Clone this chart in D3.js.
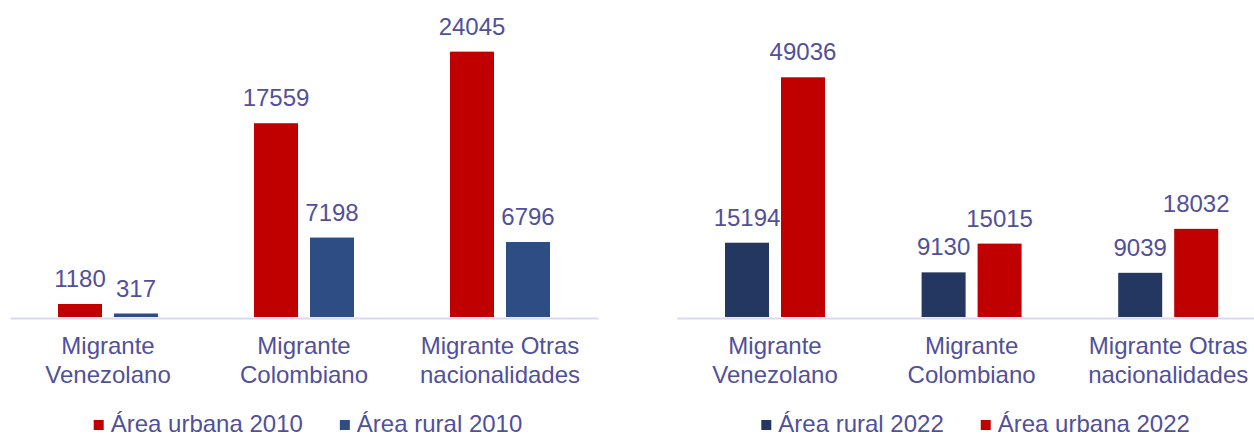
<!DOCTYPE html>
<html>
<head>
<meta charset="utf-8">
<script src="https://cdn.jsdelivr.net/npm/d3@7"></script>
<style>
  body { margin: 0; background: #fff; }
  svg { display: block; font-family: "Liberation Sans", Arial, sans-serif; }
</style>
</head>
<body>
<svg width="1254" height="437"></svg>
<script>
// Data
const categories = ["Migrante Venezolano", "Migrante Colombiano", "Migrante Otras nacionalidades"];
const tickLines = [["Migrante", "Venezolano"], ["Migrante", "Colombiano"], ["Migrante Otras", "nacionalidades"]];

const series2010 = ["Área urbana 2010", "Área rural 2010"];
const urbana2010 = [1180, 17559, 24045];
const rural2010 = [317, 7198, 6796];

const series2022 = ["Área rural 2022", "Área urbana 2022"];
const rural2022 = [15194, 9130, 9039];
const urbana2022 = [49036, 15015, 18032];

const textColor = "#51509a";
const axisColor = "#d9d9f0";

const svg = d3.select("svg");

function panel(opts) {
    const g = svg.append("g");
    const baseY = 317;

    const x0 = d3.scaleBand()
        .domain(categories)
        .range(opts.xRange)
        .padding(0);

    // two bars per group, 44px wide with a 12px gap
    const x1 = d3.scaleBand()
        .domain(opts.series)
        .range([(x0.bandwidth() - 100) / 2, (x0.bandwidth() + 100) / 2])
        .paddingInner(0.214)
        .paddingOuter(0);

    const y = d3.scaleLinear()
        .domain([0, opts.yMax])
        .range([baseY, opts.yTop]);

    const color = d3.scaleOrdinal().domain(opts.series).range(opts.colors);

    const rows = [];
    categories.forEach((c, i) => {
        opts.series.forEach((s, j) => rows.push({ cat: c, series: s, value: opts.values[j][i] }));
    });

    // category axis
    const axis = g.append("g")
        .attr("transform", `translate(0, ${baseY + 1})`)
        .call(d3.axisBottom(x0).tickSize(0).tickSizeOuter(0));
    axis.select(".domain")
        .attr("stroke", axisColor)
        .attr("stroke-width", 2);
    axis.selectAll(".tick text").remove();
    axis.selectAll(".tick").each(function (d) {
        const lines = tickLines[categories.indexOf(d)];
        const t = d3.select(this).append("text")
            .attr("fill", textColor)
            .attr("font-size", 24)
            .attr("text-anchor", "middle");
        lines.forEach((l, k) => {
            t.append("tspan").attr("x", 0).attr("y", 36 + k * 29).text(l);
        });
    });

    // bars
    g.selectAll(".bar")
        .data(rows)
        .enter().append("rect")
        .attr("class", "bar")
        .attr("x", d => x0(d.cat) + x1(d.series))
        .attr("y", d => y(d.value))
        .attr("width", x1.bandwidth())
        .attr("height", d => baseY - y(d.value))
        .attr("fill", d => color(d.series));

    // value labels
    g.selectAll(".val")
        .data(rows)
        .enter().append("text")
        .attr("class", "val")
        .attr("x", d => x0(d.cat) + x1(d.series) + x1.bandwidth() / 2)
        .attr("y", d => y(d.value) - 17)
        .attr("text-anchor", "middle")
        .attr("font-size", 24)
        .attr("fill", textColor)
        .text(d => d.value);

    // legend, centred under the panel
    const leg = g.append("g");
    let cx = 0;
    opts.series.forEach((s, j) => {
        const item = leg.append("g").attr("transform", `translate(${cx}, 0)`);
        item.append("rect")
            .attr("x", 0).attr("y", 420)
            .attr("width", 10).attr("height", 10)
            .attr("fill", color(s));
        const t = item.append("text")
            .attr("x", 17).attr("y", 432)
            .attr("font-size", 24)
            .attr("fill", textColor)
            .text(s);
        cx += 17 + t.node().getComputedTextLength() + 37;
    });
    const legW = cx - 37;
    const mid = (opts.xRange[0] + opts.xRange[1]) / 2 + 4;
    leg.attr("transform", `translate(${mid - legW / 2}, 0)`);
}

panel({
    xRange: [10, 598],
    series: series2010,
    values: [urbana2010, rural2010],
    colors: ["#c00000", "#2f4d85"],
    yMax: 28000,
    yTop: 8
});

panel({
    xRange: [676.7, 1266.5],
    series: series2022,
    values: [rural2022, urbana2022],
    colors: ["#243760", "#c00000"],
    yMax: 60000,
    yTop: 23.7
});
</script>
</body>
</html>
